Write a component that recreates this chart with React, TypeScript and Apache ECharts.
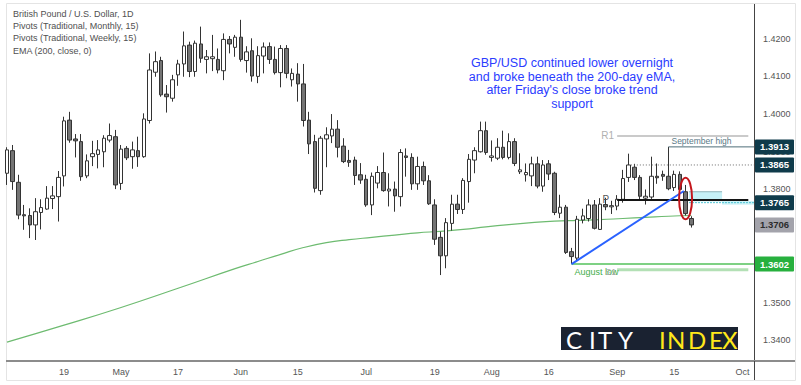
import React, { useEffect, useRef } from "react";
import * as echarts from "echarts";

// ---------- data ----------
const startDate = "2021-04-05";
const slotCount = 132;

const opens = [
  1.3843, 1.3903, 1.3819, 1.3733, 1.3731, 1.3706, 1.3739, 1.3748, 1.3776, 1.3781,
  1.3836, 1.3984, 1.3934, 1.3927, 1.3836, 1.3887, 1.3893, 1.3900, 1.3931, 1.3940,
  1.3816, 1.3909, 1.3887, 1.3903, 1.3887, 1.3983, 1.4111, 1.4142, 1.4053, 1.4042,
  1.4104, 1.4133, 1.4183, 1.4113, 1.4186, 1.4145, 1.4147, 1.4145, 1.4115, 1.4198,
  1.4177, 1.4204, 1.4142, 1.4168, 1.4100, 1.4154, 1.4179, 1.4145, 1.4110, 1.4174,
  1.4091, 1.4106, 1.4080, 1.3984, 1.3927, 1.3797, 1.3934, 1.3942, 1.3960, 1.3915,
  1.3877, 1.3878, 1.3839, 1.3827, 1.3759, 1.3817, 1.3845, 1.3796, 1.3801, 1.3781,
  1.3889, 1.3885, 1.3815, 1.3861, 1.3823, 1.3759, 1.3673, 1.3624, 1.3710, 1.3761,
  1.3747, 1.3821, 1.3878, 1.3900, 1.3956, 1.3885, 1.3883, 1.3912, 1.3885, 1.3927,
  1.3847, 1.3839, 1.3836, 1.3868, 1.3809, 1.3868, 1.3843, 1.3737, 1.3753, 1.3635,
  1.3618, 1.3719, 1.3723, 1.3759, 1.3694, 1.3760, 1.3754, 1.3756, 1.3774, 1.3832,
  1.3859, 1.3832, 1.3777, 1.3780, 1.3835, 1.3840, 1.3835, 1.3805, 1.3840, 1.3794,
  1.3723,
];
const highs = [
  1.3912, 1.3918, 1.3839, 1.3759, 1.3750, 1.3777, 1.3774, 1.3809, 1.3809, 1.3849,
  1.3993, 1.4006, 1.3947, 1.3947, 1.3893, 1.3929, 1.3931, 1.3944, 1.3975, 1.3958,
  1.3918, 1.3915, 1.3927, 1.3940, 1.4002, 1.4161, 1.4166, 1.4152, 1.4077, 1.4104,
  1.4144, 1.4219, 1.4192, 1.4195, 1.4232, 1.4170, 1.4210, 1.4174, 1.4214, 1.4207,
  1.4210, 1.4250, 1.4180, 1.4201, 1.4180, 1.4190, 1.4190, 1.4179, 1.4183, 1.4183,
  1.4121, 1.4135, 1.4133, 1.4006, 1.3945, 1.3942, 1.3965, 1.4000, 1.3984, 1.3936,
  1.3905, 1.3887, 1.3870, 1.3839, 1.3845, 1.3862, 1.3898, 1.3843, 1.3821, 1.3907,
  1.3909, 1.3896, 1.3887, 1.3874, 1.3838, 1.3774, 1.3688, 1.3724, 1.3786, 1.3786,
  1.3830, 1.3894, 1.3912, 1.3980, 1.3980, 1.3930, 1.3936, 1.3956, 1.3949, 1.3936,
  1.3896, 1.3869, 1.3887, 1.3887, 1.3878, 1.3878, 1.3847, 1.3786, 1.3759, 1.3645,
  1.3730, 1.3749, 1.3774, 1.3772, 1.3777, 1.3778, 1.3770, 1.3785, 1.3852, 1.3895,
  1.3868, 1.3838, 1.3800, 1.3887, 1.3869, 1.3850, 1.3913, 1.3850, 1.3848, 1.3812,
  1.3729,
];
const lows = [
  1.3812, 1.3799, 1.3721, 1.3693, 1.3671, 1.3666, 1.3694, 1.3746, 1.3748, 1.3715,
  1.3808, 1.3924, 1.3885, 1.3823, 1.3830, 1.3862, 1.3856, 1.3859, 1.3925, 1.3801,
  1.3799, 1.3878, 1.3855, 1.3860, 1.3884, 1.3975, 1.4099, 1.4046, 1.4004, 1.4033,
  1.4075, 1.4099, 1.4098, 1.4099, 1.4136, 1.4108, 1.4114, 1.4108, 1.4090, 1.4161,
  1.4152, 1.4139, 1.4110, 1.4086, 1.4082, 1.4108, 1.4133, 1.4105, 1.4071, 1.4095,
  1.4073, 1.4033, 1.3967, 1.3894, 1.3792, 1.3786, 1.3859, 1.3923, 1.3885, 1.3870,
  1.3860, 1.3812, 1.3815, 1.3754, 1.3732, 1.3803, 1.3794, 1.3755, 1.3741, 1.3755,
  1.3834, 1.3799, 1.3799, 1.3812, 1.3759, 1.3653, 1.3573, 1.3591, 1.3691, 1.3735,
  1.3735, 1.3765, 1.3843, 1.3898, 1.3892, 1.3874, 1.3878, 1.3880, 1.3880, 1.3862,
  1.3841, 1.3821, 1.3809, 1.3803, 1.3794, 1.3825, 1.3732, 1.3724, 1.3629, 1.3602,
  1.3610, 1.3710, 1.3715, 1.3694, 1.3693, 1.3745, 1.3735, 1.3745, 1.3765, 1.3820,
  1.3825, 1.3772, 1.3760, 1.3775, 1.3815, 1.3823, 1.3798, 1.3796, 1.3795, 1.3731,
  1.3699,
];
const closes = [
  1.3905, 1.3821, 1.3732, 1.3730, 1.3706, 1.3741, 1.3752, 1.3777, 1.3783, 1.3832,
  1.3982, 1.3931, 1.3929, 1.3834, 1.3876, 1.3895, 1.3905, 1.3936, 1.3943, 1.3812,
  1.3907, 1.3884, 1.3905, 1.3887, 1.3987, 1.4117, 1.4139, 1.4051, 1.4046, 1.4091,
  1.4133, 1.4181, 1.4113, 1.4188, 1.4148, 1.4152, 1.4152, 1.4117, 1.4198, 1.4186,
  1.4204, 1.4145, 1.4165, 1.4101, 1.4155, 1.4178, 1.4145, 1.4110, 1.4174, 1.4108,
  1.4108, 1.4080, 1.3983, 1.3921, 1.3803, 1.3936, 1.3945, 1.3960, 1.3912, 1.3874,
  1.3872, 1.3837, 1.3825, 1.3759, 1.3835, 1.3845, 1.3797, 1.3801, 1.3783, 1.3898,
  1.3885, 1.3815, 1.3861, 1.3823, 1.3762, 1.3668, 1.3624, 1.3712, 1.3761, 1.3747,
  1.3824, 1.3880, 1.3903, 1.3956, 1.3898, 1.3889, 1.3912, 1.3885, 1.3927, 1.3869,
  1.3852, 1.3845, 1.3868, 1.3809, 1.3865, 1.3841, 1.3739, 1.3753, 1.3633, 1.3622,
  1.3721, 1.3730, 1.3759, 1.3697, 1.3761, 1.3754, 1.3757, 1.3774, 1.3829, 1.3865,
  1.3832, 1.3782, 1.3782, 1.3835, 1.3831, 1.3835, 1.3802, 1.3840, 1.3800, 1.3736,
  1.3706,
];

// EMA(200) at these bar positions
const emaIdx = [0, 10, 20, 30, 40, 44, 48, 52, 56, 60, 64, 68, 72, 76, 80, 84, 88, 92, 96, 100, 104, 108, 112, 116, 120];
const emaVal = [1.3395, 1.344, 1.3487, 1.3538, 1.359, 1.3609, 1.3628, 1.3646, 1.3659, 1.3667, 1.3673, 1.3679, 1.3685, 1.3689, 1.3694, 1.3701, 1.3707, 1.3712, 1.3716, 1.3718, 1.372, 1.3723, 1.3726, 1.3729, 1.3731];

const xLabelMap: Record<string, string> = {
  "2021-04-19": "19", "2021-05-03": "May", "2021-05-17": "17", "2021-06-01": "Jun",
  "2021-06-15": "15", "2021-07-01": "Jul", "2021-07-19": "19", "2021-08-02": "Aug",
  "2021-08-16": "16", "2021-09-01": "Sep", "2021-09-15": "15", "2021-10-01": "Oct",
};
// 1.3600 and 1.3700 sit fully under the price tags in the reference
const yTicks = [1.34, 1.35, 1.38, 1.39, 1.4, 1.41, 1.42];

const legendLines = [
  "British Pound / U.S. Dollar, 1D",
  "Pivots (Traditional, Monthly, 15)",
  "Pivots (Traditional, Weekly, 15)",
  "EMA (200, close, 0)",
];
const noteLines = [
  "GBP/USD continued lower overnight",
  "and broke beneath the 200-day eMA,",
  "after Friday's close broke trend",
  "support",
];

// annotation levels
const r1Level = 1.3942;
const septHigh = 1.3913;
const dottedLevel = 1.3865;
const supportLevel = 1.3772;
const boxTop = 1.3794;
const boxBottom = 1.3768;
const weeklyLevel = 1.3765;
const augustLow = 1.3602;
const s1Level = 1.3587;
const trendStart = { i: 99, v: 1.3602 };
const trendEnd = { i: 118.7, v: 1.3796 };
const ellipseBar = 119;
const ellipseTop = 1.3831;
const ellipseBottom = 1.3721;

const priceTags = [
  { v: 1.3913, bg: "#0f3b4b", fg: "#ffffff" },
  { v: 1.3865, bg: "#0f3b4b", fg: "#ffffff" },
  { v: 1.3765, bg: "#0f3b4b", fg: "#ffffff" },
  { v: 1.3706, bg: "#a3a3ab", fg: "#2b2b2b" },
  { v: 1.3602, bg: "#27b03e", fg: "#ffffff" },
];

function tradingDays(start: string, n: number): string[] {
  const out: string[] = [];
  const d = new Date(start + "T00:00:00Z");
  while (out.length < n) {
    const wd = d.getUTCDay();
    if (wd !== 0 && wd !== 6) out.push(d.toISOString().slice(0, 10));
    d.setUTCDate(d.getUTCDate() + 1);
  }
  return out;
}

const SMALL_FONT = "'Liberation Sans Narrow', 'Liberation Sans', Arial, sans-serif";

export default function App() {
  const ref = useRef<HTMLDivElement>(null);

  useEffect(() => {
    if (!ref.current) return;
    const chart = echarts.init(ref.current, undefined, { renderer: "svg" });
    const dates = tradingDays(startDate, slotCount);
    const candles = opens.map((o, i) => [o, closes[i], lows[i], highs[i]]);
    const ema = emaIdx.map((i, k) => [i, emaVal[k]]);

    chart.setOption({
      animation: false,
      backgroundColor: "#ffffff",
      grid: { left: 7, right: 47, top: 4, bottom: 24, containLabel: false },
      xAxis: {
        type: "category",
        data: dates,
        boundaryGap: false,
        axisLine: { show: false },
        axisTick: { show: false },
        splitLine: { show: false },
        axisLabel: {
          interval: (_idx: number, val: string) => val in xLabelMap,
          formatter: (val: string) => xLabelMap[val] || "",
          color: "#555",
          fontSize: 9,
          fontFamily: SMALL_FONT,
          margin: 6,
        },
      },
      yAxis: {
        type: "value",
        position: "right",
        min: 1.3345,
        max: 1.4292,
        splitNumber: 10,
        scale: true,
        axisLine: { show: true, lineStyle: { color: "#444", width: 1 } },
        axisTick: { show: false },
        splitLine: { show: false },
        axisLabel: {
          customValues: yTicks,
          formatter: (v: number) => v.toFixed(4),
          color: "#555",
          fontSize: 9,
          fontFamily: SMALL_FONT,
          margin: 9,
        },
      },
      series: [
        {
          type: "line",
          data: ema,
          smooth: true,
          symbol: "none",
          lineStyle: { color: "#6dbb70", width: 1.2 },
          z: 2,
        },
        {
          type: "candlestick",
          data: candles,
          barWidth: 4,
          clip: true,
          itemStyle: {
            color: "#ffffff",
            color0: "#747474",
            borderColor: "#333333",
            borderColor0: "#333333",
            borderWidth: 1,
          },
          z: 3,
        },
      ],
    });

    const X = (i: number): number => {
      const f = Math.floor(i);
      const a = chart.convertToPixel({ xAxisIndex: 0 }, f) as number;
      if (i === f) return a;
      const b = chart.convertToPixel({ xAxisIndex: 0 }, f + 1) as number;
      return a + (i - f) * (b - a);
    };
    const Y = (v: number): number => chart.convertToPixel({ yAxisIndex: 0 }, v) as number;
    const axisX = 754;

    const g: any[] = [];
    // frame & axis decorations
    g.push({ type: "rect", shape: { x: 6.5, y: 3.5, width: 789, height: 377 }, style: { fill: "none", stroke: "#e4e4e4", lineWidth: 1 }, z: 1, silent: true });
    g.push({ type: "line", shape: { x1: 6, y1: 361, x2: 795, y2: 361 }, style: { stroke: "#8c8c8c", lineWidth: 2 }, z: 50 });
    g.push({ type: "line", shape: { x1: axisX + 0.5, y1: 361, x2: axisX + 0.5, y2: 380 }, style: { stroke: "#444", lineWidth: 1 }, z: 50 });

    // legend
    legendLines.forEach((t, k) => {
      g.push({ type: "text", x: 13, y: 14 + k * 12.2, style: { text: t, fill: "#505050", font: `9px ${SMALL_FONT}`, textVerticalAlign: "middle" }, z: 60 });
    });
    // blue note
    noteLines.forEach((t, k) => {
      g.push({ type: "text", x: 572, y: 63 + k * 13.6, style: { text: t, fill: "#2b3cff", font: "12.5px 'Liberation Sans', Arial, sans-serif", textAlign: "center", textVerticalAlign: "middle" }, z: 60 });
    });

    // R1 monthly pivot
    g.push({ type: "line", shape: { x1: X(107), y1: Y(r1Level), x2: X(130), y2: Y(r1Level) }, style: { stroke: "#b9b9b9", lineWidth: 1.5 }, z: 40 });
    g.push({ type: "text", x: X(107) - 3, y: Y(r1Level), style: { text: "R1", fill: "#b0b0b0", font: `10px ${SMALL_FONT}`, textAlign: "right", textVerticalAlign: "middle" }, z: 40 });
    // September high
    g.push({ type: "line", shape: { x1: X(116), y1: Y(septHigh), x2: axisX, y2: Y(septHigh) }, style: { stroke: "#4d6d79", lineWidth: 1 }, z: 40 });
    g.push({ type: "text", x: X(116) + 3, y: Y(septHigh) - 6, style: { text: "September high", fill: "#5a7a87", font: `8.5px ${SMALL_FONT}`, textVerticalAlign: "middle" }, z: 40 });
    // dotted level
    g.push({ type: "line", shape: { x1: X(109.4), y1: Y(dottedLevel), x2: axisX, y2: Y(dottedLevel) }, style: { stroke: "#6a6a6a", lineWidth: 1, lineDash: [1, 2] }, z: 40 });
    // cyan box & band
    g.push({ type: "rect", shape: { x: X(119.6), y: Y(boxTop), width: X(125.4) - X(119.6), height: Y(boxBottom) - Y(boxTop) }, style: { fill: "rgba(128,222,234,0.45)", stroke: "none" }, z: 38 });
    g.push({ type: "line", shape: { x1: X(119.6), y1: Y(boxTop), x2: X(125.4), y2: Y(boxTop) }, style: { stroke: "#8fb3b8", lineWidth: 1 }, z: 39 });
    g.push({ type: "rect", shape: { x: X(125.4), y: Y(supportLevel) + 1, width: axisX - X(125.4), height: Y(weeklyLevel) - Y(supportLevel) + 1 }, style: { fill: "rgba(128,222,234,0.4)" }, z: 38 });
    g.push({ type: "line", shape: { x1: X(119.6), y1: Y(weeklyLevel), x2: axisX, y2: Y(weeklyLevel) }, style: { stroke: "#4fc3d4", lineWidth: 1, lineDash: [2, 1] }, z: 39 });
    // black support line
    g.push({ type: "line", shape: { x1: X(107), y1: Y(supportLevel), x2: X(130), y2: Y(supportLevel) }, style: { stroke: "#141414", lineWidth: 2 }, z: 41 });
    g.push({ type: "text", x: X(105), y: Y(supportLevel) - 1, style: { text: "P", fill: "#555", font: `10px ${SMALL_FONT}`, textAlign: "center", textVerticalAlign: "middle" }, z: 41 });
    // August low + S1
    g.push({ type: "line", shape: { x1: X(107), y1: Y(s1Level), x2: X(130), y2: Y(s1Level) }, style: { stroke: "#b3e0b5", lineWidth: 3 }, z: 39 });
    g.push({ type: "line", shape: { x1: X(trendStart.i), y1: Y(augustLow), x2: axisX, y2: Y(augustLow) }, style: { stroke: "#53c25b", lineWidth: 1.5 }, z: 40 });
    g.push({ type: "text", x: X(trendStart.i) + 3, y: Y(augustLow) + 7.5, style: { text: "August low", fill: "#3fae4a", font: `9px ${SMALL_FONT}`, textVerticalAlign: "middle" }, z: 40 });
    g.push({ type: "text", x: X(107) - 1, y: Y(augustLow) + 7.5, style: { text: "S1", fill: "#a8a8a8", font: `9px ${SMALL_FONT}`, textAlign: "right", textVerticalAlign: "middle" }, z: 40 });
    // trend line
    g.push({ type: "line", shape: { x1: X(trendStart.i), y1: Y(trendStart.v), x2: X(trendEnd.i), y2: Y(trendEnd.v) }, style: { stroke: "#2a62ff", lineWidth: 2 }, z: 45 });
    // red ellipse
    const ey1 = Y(ellipseTop), ey2 = Y(ellipseBottom);
    g.push({ type: "ellipse", shape: { cx: X(ellipseBar), cy: (ey1 + ey2) / 2, rx: 6.5, ry: (ey2 - ey1) / 2 }, style: { fill: "none", stroke: "#c4161c", lineWidth: 2 }, z: 46 });

    // price tags on the axis
    priceTags.forEach((p) => {
      const y = Y(p.v);
      g.push({ type: "rect", shape: { x: axisX + 1, y: y - 7.5, width: 39, height: 15, r: 1 }, style: { fill: p.bg }, z: 70 });
      g.push({ type: "text", x: axisX + 20.5, y: y, style: { text: p.v.toFixed(4), fill: p.fg, font: `bold 9.5px ${SMALL_FONT}`, textAlign: "center", textVerticalAlign: "middle" }, z: 71 });
    });

    // CITY INDEX logo
    g.push({ type: "rect", shape: { x: 561, y: 327, width: 177, height: 23 }, style: { fill: "#1a2231" }, z: 80 });
    const letters = [
      ["C", 566, "#ffffff"], ["I", 589, "#ffffff"], ["T", 598, "#ffffff"], ["Y", 618, "#ffffff"],
      ["I", 659, "#ffe81a"], ["N", 667, "#ffe81a"], ["D", 688, "#ffe81a"], ["E", 709, "#ffe81a"], ["X", 722, "#ffe81a"],
    ];
    letters.forEach(([ch, x, c]) => {
      g.push({ type: "text", x: x as number, y: 339.5, style: { text: ch as string, fill: c as string, font: "24px Lato, 'DejaVu Sans', sans-serif", textVerticalAlign: "middle" }, z: 81 });
    });

    chart.setOption({ graphic: g });
    return () => chart.dispose();
  }, []);

  return (
    <div
      ref={ref}
      style={{ position: "fixed", left: 0, top: 0, width: 801, height: 385, background: "#fff" }}
    />
  );
}
